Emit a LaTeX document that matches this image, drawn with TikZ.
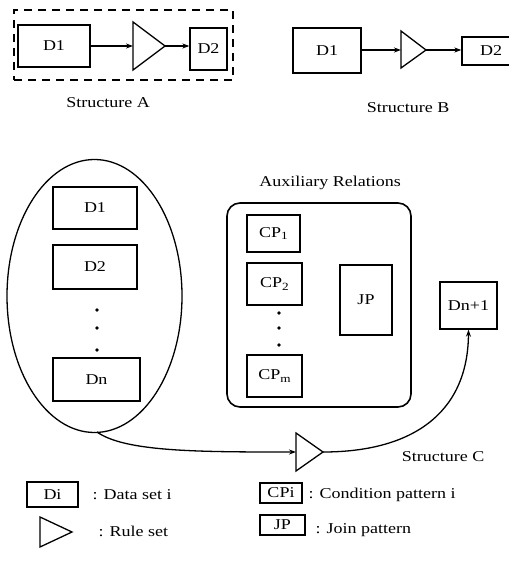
\documentclass[tikz,border=0pt]{standalone}
\usepackage{fontspec}
\setmainfont{Liberation Serif}[FakeStretch=1.2]
\usetikzlibrary{arrows.meta,shapes.geometric}
\newcommand\lowsub[1]{\raisebox{-0.35ex}{\fontsize{11}{11}\selectfont #1}}
\begin{document}
\begin{tikzpicture}[x=1pt,y=-1pt,line width=1.3pt,
  font=\fontsize{15}{16}\selectfont,
  box/.style={draw,rectangle,inner sep=0pt},
  arr/.style={-{Stealth[length=7pt,width=5pt]}},
  lbl/.style={anchor=west,inner sep=0pt},
  dotmark/.style={fill=black}]
\useasboundingbox (0,0) rectangle (508,564);

% ---------- Structure A ----------
\node[draw,rectangle,dash pattern=on 8pt off 6pt,line width=1.5pt,
      minimum width=219pt,minimum height=70pt] (frameA) at (123.5,45) {};
\node[box,minimum width=72pt,minimum height=42pt] (D1A) at (54,46) {D1};
\draw (133,22) -- (165,46) -- (133,70) -- cycle;
\coordinate (tAin) at (133,46);
\coordinate (tAout) at (165,46);
\node[box,minimum width=37pt,minimum height=42pt] (D2A) at (208.5,49) {D2};
\draw[arr] (D1A.east |- tAin) -- (tAin);
\draw[arr] (tAout) -- (D2A.west |- tAout);
\node (labA) at (108,103) {Structure A};

% ---------- Structure B ----------
\node[box,minimum width=68pt,minimum height=45pt] (D1B) at (327,50.5) {D1};
\draw (401,31) -- (426,50) -- (401,68) -- cycle;
\coordinate (tBin) at (401,50);
\coordinate (tBout) at (426,50);
\node[box,minimum width=58pt,minimum height=28pt] (D2B) at (491,51) {D2\hspace{14pt}};
\draw[arr] (D1B.east |- tBin) -- (tBin);
\draw[arr] (tBout) -- (D2B.west |- tBout);
\node (labB) at (408,108) {Structure B};

% ---------- Structure C ----------
\node[draw,ellipse,inner sep=0pt,minimum width=175pt,minimum height=273pt] (setC) at (94.5,296) {};
\node[box,minimum width=84pt,minimum height=42pt] (D1C) at (95,208) {D1};
\node[box,minimum width=84pt,minimum height=44pt] (D2C) at (95,267) {D2};
\fill[dotmark] (97,310) circle (1.8pt) (97,328) circle (1.8pt) (97,350) circle (1.8pt);
\node[box,minimum width=87pt,minimum height=43pt] (DnC) at (96.5,379.5) {Dn};

\node (auxlab) at (330,183) {Auxiliary Relations};
\node[draw,rectangle,rounded corners=13pt,line width=1.6pt,inner sep=0pt,
      minimum width=184pt,minimum height=204pt] (aux) at (319,305) {};
\node[box,minimum width=53pt,minimum height=37pt] (CP1) at (273.5,233.5) {CP\lowsub{1}};
\node[box,minimum width=55pt,minimum height=42pt] (CP2) at (274.5,284) {CP\lowsub{2}};
\fill[dotmark] (279,313) circle (1.8pt) (279,328) circle (1.8pt) (279,345) circle (1.8pt);
\node[box,minimum width=55pt,minimum height=42pt] (CPm) at (274.5,376) {CP\lowsub{m}};
\node[box,minimum width=52pt,minimum height=70pt] (JP) at (366,300) {JP};
\node[box,minimum width=57pt,minimum height=47pt] (Dnp) at (468.5,305.5) {Dn+1};

\draw (296,433) -- (323,452) -- (296,471) -- cycle;
\coordinate (tCin) at (296,452);
\coordinate (tCout) at (323,452);
\coordinate (ellbot) at (97,432);
\draw[arr] (ellbot) .. controls (125,452) and (200,452) .. (tCin);
\draw[arr] (tCout) .. controls (410,452) and (468,415) .. (Dnp.south);
\node (labC) at (443,457) {Structure C};

% ---------- Legend ----------
\node[box,minimum width=51pt,minimum height=25pt] (legD) at (52.5,494.5) {Di};
\node[lbl] (legDt) at (92,495) {: Data set i};
\draw (40,517) -- (72,532) -- (40,547) -- cycle;
\node[lbl] (legRt) at (98,531) {: Rule set};
\node[box,minimum width=42pt,minimum height=20pt] (legCP) at (281,493) {CPi};
\node[lbl] (legCPt) at (308,495) {: Condition pattern i};
\node[box,minimum width=45pt,minimum height=20pt] (legJP) at (282.5,525) {JP};
\node[lbl] (legJPt) at (315,530) {: Join pattern};
\end{tikzpicture}
\end{document}
